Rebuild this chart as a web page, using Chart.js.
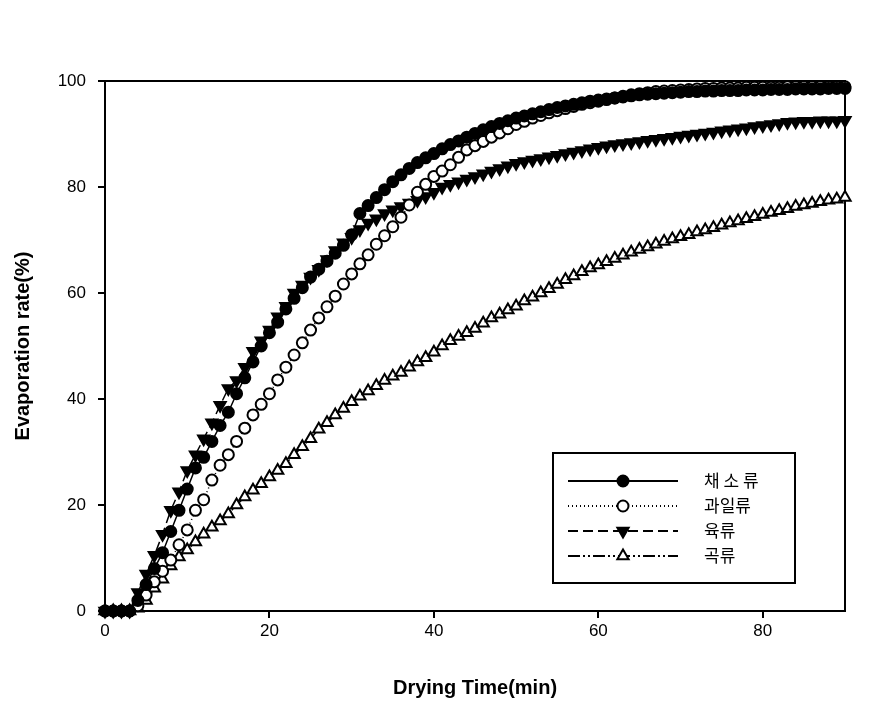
<!DOCTYPE html>
<html>
<head>
<meta charset="utf-8">
<script src="https://cdn.jsdelivr.net/npm/chart.js@4/dist/chart.umd.min.js"></script>
<style>
  body { margin: 0; background: #fff; }
  #mycanvas { display: block; }
</style>
</head>
<body>
<canvas id="mycanvas" width="887" height="706"></canvas>
<script>
// drying time, minutes
var times = [0,1,2,3,4,5,6,7,8,9,10,11,12,13,14,15,16,17,18,19,20,21,22,23,24,25,26,27,28,29,
  30,31,32,33,34,35,36,37,38,39,40,41,42,43,44,45,46,47,48,49,50,51,52,53,54,55,56,57,58,59,
  60,61,62,63,64,65,66,67,68,69,70,71,72,73,74,75,76,77,78,79,80,81,82,83,84,85,86,87,88,89,90];

// 채소류
var vegetable = [0,0,0,0,2,5,8,11,15,19,23,27,29,32,35,37.5,41,44,47,50,
  52.5,54.5,57,59,61,63,64.5,66,67.5,69,71,75,76.5,78,79.5,81,82.3,83.5,84.6,85.5,
  86.3,87.2,88,88.7,89.4,90.1,90.8,91.4,92,92.5,93,93.4,93.8,94.2,94.6,95,95.3,95.6,95.9,96.2,
  96.4,96.6,96.8,97,97.2,97.4,97.5,97.6,97.7,97.8,97.9,98,98,98.1,98.1,98.2,98.2,98.2,98.3,98.3,
  98.3,98.4,98.4,98.4,98.5,98.5,98.5,98.5,98.6,98.6,98.6];

// 과일류
var fruit = [0,0,0,0,1,3,5.5,7.5,9.6,12.5,15.3,19,21,24.7,27.5,29.5,32,34.5,37,39,
  41,43.6,46,48.3,50.6,53,55.3,57.4,59.4,61.7,63.6,65.5,67.2,69.2,70.8,72.5,74.3,76.6,79,80.5,
  82,83,84.2,85.6,87,87.8,88.6,89.4,90.2,91,91.8,92.4,93,93.5,94,94.4,94.8,95.2,95.6,95.9,
  96.2,96.5,96.8,97.1,97.4,97.6,97.8,98,98.1,98.2,98.3,98.4,98.5,98.6,98.6,98.7,98.7,98.7,98.8,98.8,
  98.8,98.8,98.8,98.9,98.9,98.9,98.9,98.9,98.9,98.9,98.9];

// 육류
var meat = [0,0,0,0,3.5,7,10.5,14.5,19,22.5,26.5,29.5,32.5,35.5,38.8,42,43.5,46,49,51,
  53,55.5,57.5,60,61.5,63,64.5,66.3,68,69.5,70.5,72,73.2,74,75,75.7,76.3,77,77.5,78.2,
  79,80,80.5,81,81.5,82,82.5,83,83.5,84,84.5,84.8,85.1,85.4,85.7,86,86.3,86.6,86.9,87.2,
  87.5,87.8,88,88.2,88.4,88.6,88.8,89,89.2,89.4,89.6,89.8,90,90.2,90.4,90.6,90.8,91,91.2,91.4,
  91.6,91.8,92,92.2,92.3,92.4,92.4,92.5,92.5,92.5,92.6];

// 곡류
var grain = [0,0,0,0,0.5,2,4.3,6,8.5,10.2,11.5,13,14.5,15.8,17,18.3,20,21.5,22.8,24,
  25.3,26.5,27.8,29.5,31,32.5,34.3,35.5,37,38.2,39.5,40.5,41.5,42.5,43.5,44.3,45,46,47,47.8,
  48.8,50,51,51.8,52.5,53.3,54.3,55.3,56,56.8,57.5,58.5,59.2,60,60.8,61.6,62.5,63.2,64,64.7,
  65.3,65.9,66.5,67.1,67.7,68.2,68.7,69.2,69.7,70.2,70.6,71,71.5,71.9,72.3,72.8,73.2,73.6,74,74.4,
  74.8,75.2,75.5,75.9,76.3,76.6,76.9,77.2,77.5,77.7,78];

var seriesNames = ["채 소 류", "과일류", "육류", "곡류"];
var xTicks = [0, 20, 40, 60, 80];
var yTicks = [0, 20, 40, 60, 80, 100];

function pairs(ys) {
  var out = [];
  for (var i = 0; i < times.length; i++) out.push({x: times[i], y: ys[i]});
  return out;
}

var styles = [
  {dash: [], point: 'circle', fill: '#000', radius: 5.5, rot: 0},
  {dash: [1, 3], point: 'circle', fill: '#fff', radius: 5.5, rot: 0},
  {dash: [10, 5], point: 'triangle', fill: '#000', radius: 6.5, rot: 180},
  {dash: [12, 3, 2, 3, 2, 3], point: 'triangle', fill: '#fff', radius: 6.5, rot: 0}
];
var values = [vegetable, fruit, meat, grain];

var datasets = [];
for (var s = 0; s < 4; s++) {
  datasets.push({
    label: seriesNames[s],
    data: pairs(values[s]),
    borderColor: '#000',
    borderWidth: 1.5,
    borderDash: styles[s].dash,
    backgroundColor: styles[s].fill,
    pointStyle: styles[s].point,
    pointRadius: styles[s].radius,
    pointRotation: styles[s].rot,
    pointBackgroundColor: styles[s].fill,
    pointBorderColor: '#000',
    pointBorderWidth: 2,
    tension: 0,
    clip: false
  });
}

var framePlugin = {
  id: 'frame',
  beforeDatasetsDraw: function(chart) {
    var a = chart.chartArea, c = chart.ctx;
    c.save();
    c.strokeStyle = '#000';
    c.lineWidth = 2;
    c.strokeRect(a.left, a.top, a.right - a.left, a.bottom - a.top);
    c.restore();
  }
};

var legendPlugin = {
  id: 'boxLegend',
  afterDraw: function(chart) {
    var c = chart.ctx;
    var bx = 553, by = 453, bw = 242, bh = 130;
    var rows = [481, 506, 531, 556];
    c.save();
    c.fillStyle = '#fff';
    c.fillRect(bx, by, bw, bh);
    c.strokeStyle = '#000';
    c.lineWidth = 2;
    c.strokeRect(bx, by, bw, bh);
    for (var i = 0; i < 4; i++) {
      var y = rows[i];
      c.setLineDash(styles[i].dash);
      c.lineWidth = 2;
      c.beginPath();
      c.moveTo(568, y);
      c.lineTo(678, y);
      c.stroke();
      c.setLineDash([]);
      c.fillStyle = styles[i].fill;
      c.strokeStyle = '#000';
      c.lineWidth = 2;
      Chart.helpers.drawPoint(c, {pointStyle: styles[i].point, radius: styles[i].radius, rotation: styles[i].rot, borderWidth: 2}, 623, y);
      c.fillStyle = '#000';
      c.font = '17px "Noto Sans CJK KR", "Liberation Sans", sans-serif';
      c.textBaseline = 'middle';
      c.textAlign = 'left';
      c.fillText(seriesNames[i], 704, y);
    }
    c.restore();
  }
};

var ctx = document.getElementById('mycanvas');
var chart = new Chart(ctx, {
  type: 'line',
  data: {datasets: datasets},
  options: {
    responsive: false,
    animation: false,
    layout: {padding: {left: 0, right: 42, top: 81, bottom: 0}},
    plugins: {legend: {display: false}, tooltip: {enabled: false}},
    scales: {
      x: {
        type: 'linear',
        min: 0, max: 90,
        afterFit: function(scale) { scale.height = 95; },
        afterBuildTicks: function(scale) { scale.ticks = xTicks.map(function(v) { return {value: v}; }); },
        grid: {display: true, drawOnChartArea: false, drawTicks: true, tickLength: 7, color: '#000', lineWidth: 2},
        border: {display: true, color: '#000', width: 2},
        ticks: {color: '#000', font: {family: '"Liberation Sans", Arial, sans-serif', size: 17}, padding: 3, maxRotation: 0},
        title: {display: true, text: 'Drying Time(min)', color: '#000',
          font: {family: '"Liberation Sans", Arial, sans-serif', size: 20, weight: 'bold'}, padding: {top: 0, bottom: 6}}
      },
      y: {
        min: 0, max: 100,
        afterFit: function(scale) { scale.width = 105; },
        afterBuildTicks: function(scale) { scale.ticks = yTicks.map(function(v) { return {value: v}; }); },
        grid: {display: true, drawOnChartArea: false, drawTicks: true, tickLength: 7, color: '#000', lineWidth: 2},
        border: {display: true, color: '#000', width: 2},
        ticks: {color: '#000', font: {family: '"Liberation Sans", Arial, sans-serif', size: 17}, padding: 12},
        title: {display: true, text: 'Evaporation rate(%)', color: '#000',
          font: {family: '"Liberation Sans", Arial, sans-serif', size: 20, weight: 'bold'}, padding: {top: 11, bottom: 0}}
      }
    }
  },
  plugins: [framePlugin, legendPlugin]
});
</script>
</body>
</html>
